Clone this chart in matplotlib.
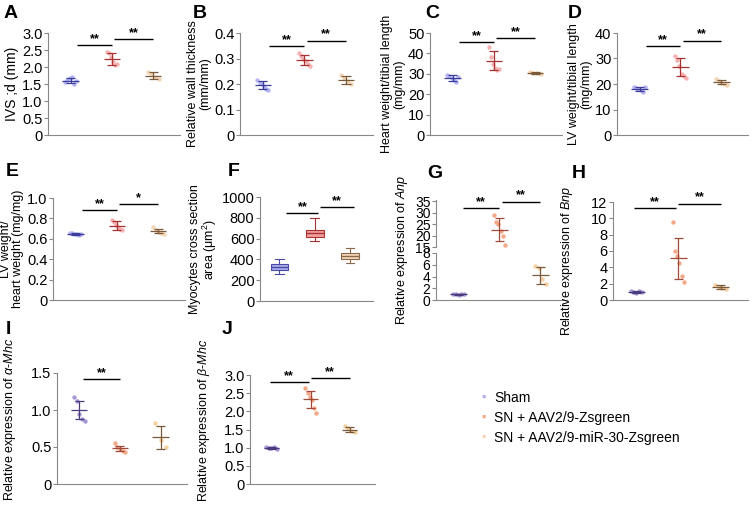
import numpy as np
import matplotlib
matplotlib.use('Agg')
import matplotlib.pyplot as plt

plt.rcParams['font.family'] = ['Liberation Sans', 'DejaVu Sans']
plt.rcParams['mathtext.fontset'] = 'custom'
plt.rcParams['mathtext.it'] = 'Liberation Sans:italic'
plt.rcParams['mathtext.rm'] = 'Liberation Sans'

W, H = 756, 511
groups = ['Sham', 'SN + AAV2/9-Zsgreen', 'SN + AAV2/9-miR-30-Zsgreen']

# scatter values per panel (Sham, SN+Zsgreen, SN+miR-30)
ivs_pts = [[1.55, 1.62, 1.68, 1.70, 1.50, 1.58], [2.45, 2.40, 2.30, 2.15, 2.05, 2.10], [1.86, 1.80, 1.70, 1.66]]
ivs_mean = [1.60, 2.23, 1.75]
ivs_sd = [0.08, 0.18, 0.10]

rwt_pts = [[0.215, 0.205, 0.200, 0.190, 0.180, 0.175], [0.320, 0.310, 0.300, 0.290, 0.280, 0.270], [0.235, 0.225, 0.210, 0.200]]
rwt_mean = [0.195, 0.295, 0.215]
rwt_sd = [0.015, 0.020, 0.015]

hwtl_pts = [[29.5, 29.0, 28.0, 27.0, 26.0, 28.5], [43.0, 38.0, 35.0, 33.0, 32.0, 32.5], [31.0, 30.5, 30.2, 30.0]]
hwtl_mean = [28.0, 36.5, 30.5]
hwtl_sd = [1.5, 4.5, 0.5]

lvtl_pts = [[19.0, 18.6, 18.0, 17.5, 17.0, 18.8], [31.0, 29.5, 27.0, 24.0, 23.0, 22.5], [21.8, 21.0, 20.5, 20.0, 19.8]]
lvtl_mean = [18.2, 26.7, 20.8]
lvtl_sd = [0.8, 3.6, 0.8]

lvhw_pts = [[0.66, 0.655, 0.65, 0.645, 0.64, 0.65], [0.78, 0.76, 0.74, 0.72, 0.70, 0.69], [0.72, 0.69, 0.67, 0.66, 0.65]]
lvhw_mean = [0.65, 0.73, 0.68]
lvhw_sd = [0.01, 0.04, 0.02]

# box plot stats for myocyte area: whislo, q1, med, q3, whishi
csa_whislo = [260, 580, 370]
csa_q1 = [300, 620, 400]
csa_med = [330, 650, 430]
csa_q3 = [360, 680, 460]
csa_whishi = [400, 800, 510]

anp_pts = [[1.1, 1.0, 0.9, 1.05, 0.95], [29.0, 26.0, 25.0, 22.0, 20.0, 16.0], [5.8, 5.5, 3.5, 2.8]]
anp_mean = [1.0, 22.5, 4.2]
anp_sd = [0.1, 5.0, 1.4]

bnp_pts = [[1.1, 1.0, 0.9, 1.05, 0.95], [9.6, 6.0, 5.4, 4.5, 3.0, 2.2], [1.8, 1.6, 1.5, 1.4]]
bnp_mean = [1.0, 5.1, 1.6]
bnp_sd = [0.1, 2.5, 0.2]

amhc_pts = [[1.17, 1.12, 0.95, 0.88, 0.85], [0.55, 0.50, 0.47, 0.45, 0.43], [0.82, 0.60, 0.50]]
amhc_mean = [1.0, 0.48, 0.63]
amhc_sd = [0.12, 0.04, 0.16]

bmhc_pts = [[1.03, 1.0, 0.98, 1.01, 0.97], [2.65, 2.50, 2.40, 2.30, 2.10, 1.95], [1.60, 1.55, 1.45, 1.42]]
bmhc_mean = [1.0, 2.33, 1.5]
bmhc_sd = [0.03, 0.23, 0.08]

pal1 = {'pt': ['#b4b4f2', '#f6b2b2', '#f4d6b4'], 'bar': ['#3c3c9a', '#a83232', '#7a5a3a']}
pal2 = {'pt': ['#a898d6', '#f4a888', '#f4d0a0'], 'bar': ['#4a3c7a', '#a04a3a', '#7a5a3a']}
pos = [1, 2, 3]
LFS = 9

fig = plt.figure(figsize=(W / 100, H / 100), dpi=100)


def px_axes(x0, y0, x1, y1):
    return fig.add_axes([x0 / W, 1 - y1 / H, (x1 - x0) / W, (y1 - y0) / H])


def style(ax):
    for s in ['top', 'right']:
        ax.spines[s].set_visible(False)
    for s in ['left', 'bottom']:
        ax.spines[s].set_color('#888888')
        ax.spines[s].set_linewidth(0.8)
    ax.tick_params(axis='y', direction='out', length=3, width=0.8, color='#888888', labelsize=10.5, pad=1)
    ax.tick_params(axis='x', length=0)
    ax.set_xticks([])
    ax.set_xlim(0.45, 3.65)


def dots(ax, pts, means, sds, pal):
    for i, (p, m, s) in enumerate(zip(pts, means, sds)):
        n = len(p)
        jit = np.linspace(-0.13, 0.13, n)
        ax.scatter(pos[i] + jit, p, s=10, color=pal['pt'][i], zorder=2, linewidths=0)
        c = pal['bar'][i]
        ax.hlines(m, pos[i] - 0.2, pos[i] + 0.2, color=c, lw=0.9, zorder=3)
        ax.vlines(pos[i], m - s, m + s, color=c, lw=0.9, zorder=3)
        ax.hlines([m - s, m + s], pos[i] - 0.11, pos[i] + 0.11, color=c, lw=0.9, zorder=3)


def sig(ax, x0, x1, y, txt):
    ax.hlines(y, x0, x1, color='black', lw=1)
    ax.text((x0 + x1) / 2, y, txt, ha='center', va='bottom', fontsize=9, fontweight='bold')


def letter(x, y, t):
    fig.text(x / W, 1 - y / H, t, fontsize=14, fontweight='bold', va='center', ha='left')


# A
ax = px_axes(48, 33, 180, 135)
style(ax)
dots(ax, ivs_pts, ivs_mean, ivs_sd, pal1)
ax.set_ylim(0, 3.0)
ax.set_yticks(np.arange(0, 3.01, 0.5))
ax.set_yticklabels(['0'] + [f'{v:.1f}' for v in np.arange(0.5, 3.01, 0.5)])
sig(ax, 1.15, 2.0, 2.65, '**')
sig(ax, 2.05, 3.0, 2.82, '**')
ax.set_ylabel('IVS ;d (mm)', fontsize=LFS + 1, labelpad=2)
letter(4, 14, 'A')

# B
ax = px_axes(240, 33, 373, 135)
style(ax)
dots(ax, rwt_pts, rwt_mean, rwt_sd, pal1)
ax.set_ylim(0, 0.4)
ax.set_yticks([0, 0.1, 0.2, 0.3, 0.4])
ax.set_yticklabels(['0', '0.1', '0.2', '0.3', '0.4'])
sig(ax, 1.15, 2.0, 0.35, '**')
sig(ax, 2.05, 3.0, 0.37, '**')
ax.set_ylabel('Relative wall thickness\n(mm/mm)', fontsize=LFS, labelpad=2, linespacing=1.0)
letter(193, 14, 'B')

# C
ax = px_axes(430, 33, 562, 135)
style(ax)
dots(ax, hwtl_pts, hwtl_mean, hwtl_sd, pal1)
ax.set_ylim(0, 50)
ax.set_yticks([0, 10, 20, 30, 40, 50])
sig(ax, 1.15, 2.0, 45.5, '**')
sig(ax, 2.05, 3.0, 47.5, '**')
ax.set_ylabel('Heart weight/tibial length\n(mg/mm)', fontsize=LFS, labelpad=2, linespacing=1.0)
letter(425, 14, 'C')

# D
ax = px_axes(617, 33, 748, 135)
style(ax)
dots(ax, lvtl_pts, lvtl_mean, lvtl_sd, pal1)
ax.set_ylim(0, 40)
ax.set_yticks([0, 10, 20, 30, 40])
sig(ax, 1.15, 2.0, 35, '**')
sig(ax, 2.05, 3.0, 37, '**')
ax.set_ylabel('LV weight/tibial length\n(mg/mm)', fontsize=LFS, labelpad=2, linespacing=1.0)
letter(568, 14, 'D')

# E
ax = px_axes(53, 198, 185, 300)
style(ax)
dots(ax, lvhw_pts, lvhw_mean, lvhw_sd, pal1)
ax.set_ylim(0, 1.0)
ax.set_yticks([0, 0.2, 0.4, 0.6, 0.8, 1.0])
ax.set_yticklabels(['0', '0.2', '0.4', '0.6', '0.8', '1.0'])
sig(ax, 1.15, 2.0, 0.88, '**')
sig(ax, 2.05, 3.0, 0.94, '*')
ax.set_ylabel('LV weight/\nheart weight (mg/mg)', fontsize=LFS, labelpad=2, linespacing=1.0)
letter(6, 172, 'E')

# F
ax = px_axes(260, 197, 373, 301)
style(ax)
stats = []
for i in range(3):
    stats.append(dict(whislo=csa_whislo[i], q1=csa_q1[i], med=csa_med[i],
                      q3=csa_q3[i], whishi=csa_whishi[i], fliers=[]))
fills = ['#aab0f2', '#f4a0a0', '#f5d8bc']
edges = ['#4a4aa0', '#a83232', '#8a6a4a']
bp = ax.bxp(stats, positions=pos, widths=0.5, patch_artist=True, showfliers=False)
for i in range(3):
    bp['boxes'][i].set(facecolor=fills[i], edgecolor=edges[i], lw=0.8)
    bp['medians'][i].set(color=edges[i], lw=1)
    for w in bp['whiskers'][2 * i:2 * i + 2] + bp['caps'][2 * i:2 * i + 2]:
        w.set(color=edges[i], lw=0.8)
ax.set_xticks([])
ax.set_xlim(0.45, 3.65)
ax.set_ylim(0, 1000)
ax.set_yticks([0, 200, 400, 600, 800, 1000])
sig(ax, 1.2, 2.1, 845, '**')
sig(ax, 2.15, 3.1, 905, '**')
ax.set_ylabel('Myocytes cross section\narea (μm$^2$)', fontsize=LFS, labelpad=2, linespacing=1.0)
letter(228, 172, 'F')

# G (broken axis)
axl = px_axes(436, 253, 567, 300)
axu = px_axes(436, 200, 567, 247)
for a in (axl, axu):
    style(a)
    dots(a, anp_pts, anp_mean, anp_sd, pal2)
axu.spines['bottom'].set_visible(False)
axl.set_ylim(0, 8)
axl.set_yticks([0, 2, 4, 6, 8])
axu.set_ylim(15, 35.5)
axu.set_yticks([15, 20, 25, 30, 35])
sig(axu, 1.1, 2.0, 32, '**')
sig(axu, 2.05, 3.0, 34.8, '**')
for a in (axl, axu):
    a.tick_params(axis='y', labelsize=10, pad=1)
fig.text(402 / W, 1 - 250 / H, 'Relative expression of $\\it{Anp}$', rotation=90,
         fontsize=LFS, ha='center', va='center')
letter(427, 173, 'G')

# H
ax = px_axes(613, 202, 748, 300)
style(ax)
dots(ax, bnp_pts, bnp_mean, bnp_sd, pal2)
ax.set_ylim(0, 12)
ax.set_yticks([0, 2, 4, 6, 8, 10, 12])
sig(ax, 0.95, 1.95, 11.3, '**')
sig(ax, 2.0, 3.0, 11.8, '**')
ax.set_ylabel('Relative expression of $\\it{Bnp}$', fontsize=LFS, labelpad=2)
ax.yaxis.set_label_coords(-0.28, 0.4)
letter(572, 173, 'H')

# I
ax = px_axes(57, 373, 187, 484)
style(ax)
dots(ax, amhc_pts, amhc_mean, amhc_sd, pal2)
ax.set_ylim(0, 1.5)
ax.set_yticks([0, 0.5, 1.0, 1.5])
ax.set_yticklabels(['0', '0.5', '1.0', '1.5'])
sig(ax, 1.1, 2.0, 1.42, '**')
ax.set_ylabel('Relative expression of $\\it{α}$-$\\it{Mhc}$', fontsize=LFS, labelpad=2)
ax.yaxis.set_label_coords(-0.3, 0.58)
letter(6, 330, 'I')

# J
ax = px_axes(250, 375, 375, 484)
style(ax)
dots(ax, bmhc_pts, bmhc_mean, bmhc_sd, pal2)
ax.set_ylim(0, 3.0)
ax.set_yticks(np.arange(0, 3.01, 0.5))
ax.set_yticklabels(['0'] + [f'{v:.1f}' for v in np.arange(0.5, 3.01, 0.5)])
sig(ax, 0.95, 1.95, 2.8, '**')
sig(ax, 2.0, 3.0, 2.92, '**')
ax.set_ylabel('Relative expression of $\\it{β}$-$\\it{Mhc}$', fontsize=LFS, labelpad=2)
ax.yaxis.set_label_coords(-0.3, 0.58)
letter(222, 330, 'J')

# legend
leg_colors = ['#b8aae6', '#f4a88a', '#f8d8b4']
for i, (g, c) in enumerate(zip(groups, leg_colors)):
    y = 398 + 20 * i
    fig.text(484 / W, 1 - y / H, '\u25aa', color=c, fontsize=9, ha='center', va='center')
    fig.text(494 / W, 1 - y / H, g, fontsize=10, ha='left', va='center')

fig.savefig('out.png', dpi=100, facecolor='white')
